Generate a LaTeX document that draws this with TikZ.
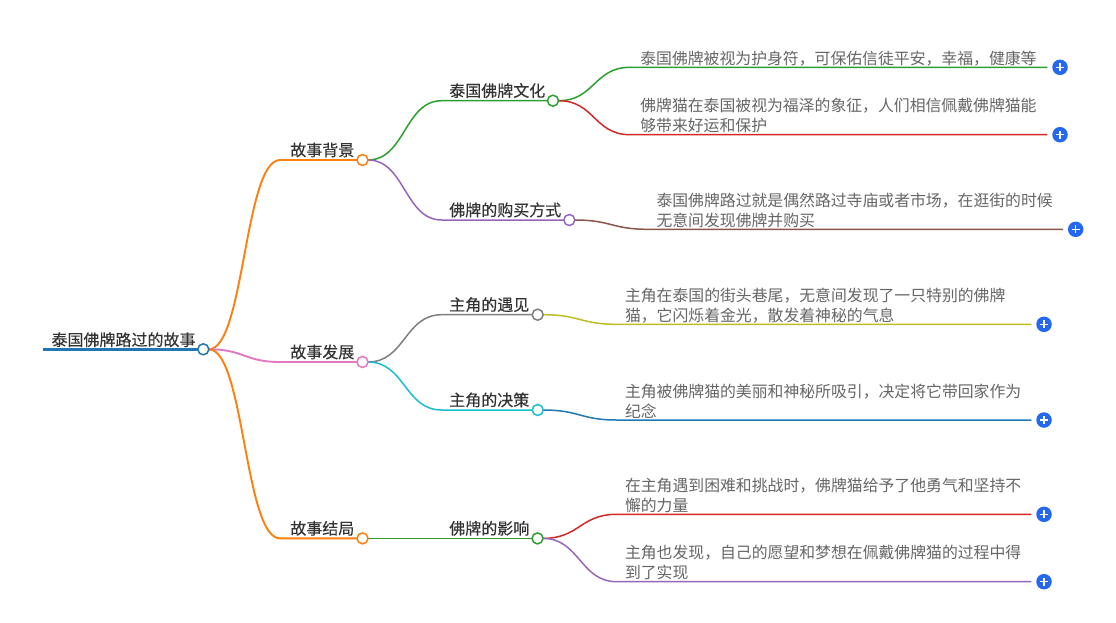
\documentclass[tikz,border=0pt]{standalone}
\usepackage{fontspec}
\newfontfamily\cjk{Noto Sans CJK SC}
\newfontfamily\cjkb{Noto Sans CJK SC}[FakeBold=0.25]
\definecolor{cOrange}{HTML}{FF7F0E}
\definecolor{cPink}{HTML}{E377C2}
\definecolor{cGreen}{HTML}{2CA02C}
\definecolor{cRed}{HTML}{D62728}
\definecolor{cPurple}{HTML}{9467BD}
\definecolor{cBrown}{HTML}{8C564B}
\definecolor{cGray}{HTML}{7F7F7F}
\definecolor{cOlive}{HTML}{BCBD22}
\definecolor{cCyan}{HTML}{17BECF}
\definecolor{cBlue}{HTML}{1F77B4}
\definecolor{plusc}{HTML}{2468F2}
\definecolor{labelc}{HTML}{333333}
\definecolor{leafc}{HTML}{666666}
\pgfdeclarelayer{bg}
\pgfdeclarelayer{edges}
\pgfsetlayers{bg,edges,main}
\newcommand{\leaftwo}[2]{\vtop{\hbox{#1}\hbox{#2}}}
\tikzset{
  knob/.style={circle,draw=#1,fill=white,line width=1.5pt,minimum size=11pt,inner sep=0pt,outer sep=0pt},
  con/.style={draw=#1,line width=1.5pt},
  con1/.style={draw=#1,line width=1.9pt},
  sc/.style={out=0,in=180,distance=#1},
  lbl/.style={anchor=base west,inner sep=0pt,outer sep=0pt,text=labelc,font=\cjkb\fontsize{16}{20}\selectfont},
  leaf/.style={anchor=base west,inner sep=0pt,outer sep=0pt,text=leafc,font=\cjk\fontsize{15.85}{20}\selectfont},
  pluskn/.style={circle,fill=plusc,minimum size=15.5pt,inner sep=0pt,outer sep=0pt,
    path picture={\draw[white,line width=1.4pt]
      ([xshift=-4pt]path picture bounding box.center) -- ([xshift=4pt]path picture bounding box.center)
      ([yshift=-4pt]path picture bounding box.center) -- ([yshift=4pt]path picture bounding box.center);}},
}
\begin{document}
\begin{tikzpicture}[x=1pt,y=-1pt]
\begin{pgfonlayer}{bg}
\fill[white] (0,0) rectangle (1116,622);
\end{pgfonlayer}
\useasboundingbox (0,0) rectangle (1116,622);

% root
\node[knob=cBlue] (r) at (203.3,349.3) {};
\node[lbl] (rt) at (51.5,345.8) {泰国佛牌路过的故事};
\coordinate (rs) at (43,349.3);

% level 1
\node[knob=cOrange] (b1) at (362.5,160) {};
\node[knob=cPink] (b2) at (362.5,362) {};
\node[knob=cOrange] (b3) at (362.5,538.4) {};
\coordinate (b1s) at (280,160);
\coordinate (b2s) at (280,362);
\coordinate (b3s) at (280,538.4);
\node[lbl] (t1) at (290.3,156) {故事背景};
\node[lbl] (t2) at (290.3,358) {故事发展};
\node[lbl] (t3) at (290.3,534.4) {故事结局};

% level 2
\node[knob=cGreen] (c1) at (553,100.7) {};
\node[knob=cPurple] (c2) at (569.3,220) {};
\node[knob=cGray] (c3) at (537.7,314.7) {};
\node[knob=cCyan] (c4) at (537.7,410) {};
\node[knob=cGreen] (c5) at (537.5,538.4) {};
\coordinate (c1s) at (441.7,100.7);
\coordinate (c2s) at (441.7,220);
\coordinate (c3s) at (441.7,314.7);
\coordinate (c4s) at (441.7,410);
\node[lbl] (u1) at (449.3,96.7) {泰国佛牌文化};
\node[lbl] (u2) at (449.3,216) {佛牌的购买方式};
\node[lbl] (u3) at (449.3,310.7) {主角的遇见};
\node[lbl] (u4) at (449.3,406) {主角的决策};
\node[lbl] (u5) at (449.3,534.4) {佛牌的影响};

% leaves
\node[leaf] (f1) at (640.3,64.3) {泰国佛牌被视为护身符，可保佑信徒平安，幸福，健康等};
\node[leaf] (f2) at (640.3,111.7) {\leaftwo{佛牌猫在泰国被视为福泽的象征，人们相信佩戴佛牌猫能}{够带来好运和保护}};
\node[leaf] (f3) at (656.5,206.3) {\leaftwo{泰国佛牌路过就是偶然路过寺庙或者市场，在逛街的时候}{无意间发现佛牌并购买}};
\node[leaf] (f4) at (625,301.3) {\leaftwo{主角在泰国的街头巷尾，无意间发现了一只特别的佛牌}{猫，它闪烁着金光，散发着神秘的气息}};
\node[leaf] (f5) at (625,397) {\leaftwo{主角被佛牌猫的美丽和神秘所吸引，决定将它带回家作为}{纪念}};
\node[leaf] (f6) at (625,491.3) {\leaftwo{在主角遇到困难和挑战时，佛牌猫给予了他勇气和坚持不}{懈的力量}};
\node[leaf] (f7) at (625,558.7) {\leaftwo{主角也发现，自己的愿望和梦想在佩戴佛牌猫的过程中得}{到了实现}};

\coordinate (l1s) at (630,67.3);
\coordinate (l2s) at (630,134.7);
\coordinate (l3s) at (648,229.3);
\coordinate (l4s) at (616.7,324.3);
\coordinate (l5s) at (616.7,420);
\coordinate (l6s) at (616.7,514.3);
\coordinate (l7s) at (616.7,581.7);

\node[pluskn] (p1) at (1060,67.3) {};
\node[pluskn] (p2) at (1060,134.7) {};
\node[pluskn] (p3) at (1075.7,229.3) {};
\node[pluskn] (p4) at (1044,324.3) {};
\node[pluskn] (p5) at (1044,420) {};
\node[pluskn] (p6) at (1044,514.3) {};
\node[pluskn] (p7) at (1044,581.7) {};

\begin{pgfonlayer}{edges}
% root underline
\draw[cBlue,line width=3pt] (rs) -- (r.west);
% root to level 1
\draw[con1=cOrange] (r.east) to[sc=35.5pt] (b1s) -- (b1.west);
\draw[con1=cPink] (r.east) to[sc=35.5pt] (b2s) -- (b2.west);
\draw[con1=cOrange] (r.east) to[sc=35.5pt] (b3s) -- (b3.west);
% level 1 to level 2
\draw[con=cGreen] (b1.east) to[sc=37pt] (c1s) -- (c1.west);
\draw[con=cPurple] (b1.east) to[sc=37pt] (c2s) -- (c2.west);
\draw[con=cGray] (b2.east) to[sc=37pt] (c3s) -- (c3.west);
\draw[con=cCyan] (b2.east) to[sc=37pt] (c4s) -- (c4.west);
\draw[con=cGreen] (b3.east) -- (c5.west);
% level 2 to leaves
\draw[con=cGreen] (c1.east) to[sc=36pt] (l1s) -- ([xshift=-5pt]p1.west);
\draw[con=cRed] (c1.east) to[sc=36pt] (l2s) -- ([xshift=-5pt]p2.west);
\draw[con=cBrown] (c2.east) to[sc=36.5pt] (l3s) -- ([xshift=-5pt]p3.west);
\draw[con=cOlive] (c3.east) to[sc=36.5pt] (l4s) -- ([xshift=-5pt]p4.west);
\draw[con=cBlue] (c4.east) to[sc=36.5pt] (l5s) -- ([xshift=-5pt]p5.west);
\draw[con=cRed] (c5.east) to[sc=36.5pt] (l6s) -- ([xshift=-5pt]p6.west);
\draw[con=cPurple] (c5.east) to[sc=36.5pt] (l7s) -- ([xshift=-5pt]p7.west);
\end{pgfonlayer}
\end{tikzpicture}
\end{document}
